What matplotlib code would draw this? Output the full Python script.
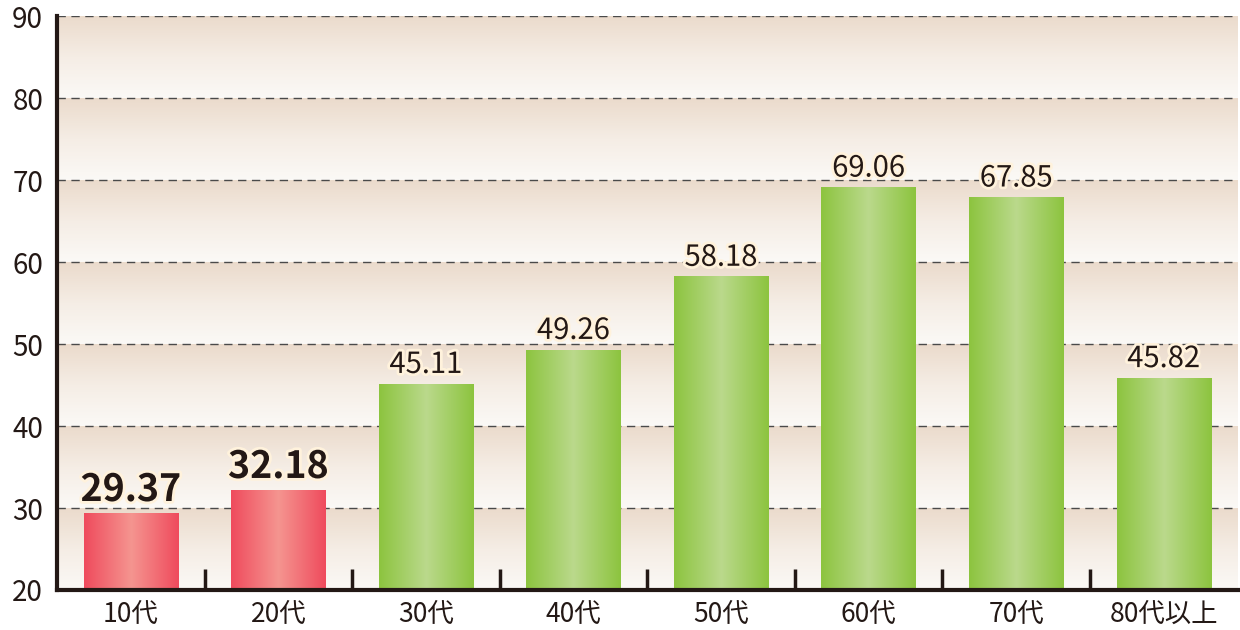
import numpy as np
import matplotlib.pyplot as plt
import matplotlib.patheffects as pe
from matplotlib.colors import LinearSegmentedColormap

plt.rcParams['font.family'] = ['Noto Sans CJK JP', 'DejaVu Sans']

categories = ['10代', '20代', '30代', '40代', '50代', '60代', '70代', '80代以上']
values = [29.37, 32.18, 45.11, 49.26, 58.18, 69.06, 67.85, 45.82]
highlight = [True, True, False, False, False, False, False, False]
y_ticks = [20, 30, 40, 50, 60, 70, 80, 90]

fig = plt.figure(figsize=(12.4, 6.3), dpi=100)
ax = fig.add_axes([0.046, 0.0635, 0.952, 0.911])
ax.set_xlim(0, len(categories))
ax.set_ylim(20, 90)

# background bands: beige at top of each band fading to near white
band_cmap = LinearSegmentedColormap.from_list('band', ['#fbf9f6', '#f5ede5', '#ebdbcc'])
grad = np.linspace(0, 1, 64).reshape(-1, 1)
for lo in y_ticks[:-1]:
    ax.imshow(grad, cmap=band_cmap, aspect='auto', origin='lower',
              extent=(0, len(categories), lo, lo + 10), zorder=0)

for y in y_ticks[1:]:
    ax.axhline(y, color='#4a4a4a', lw=1.0, ls=(0, (6, 4)), zorder=1)

# bars with horizontal gradient
red_cmap = LinearSegmentedColormap.from_list('red', ['#ef4b5d', '#f59590', '#ef4b5d'])
green_cmap = LinearSegmentedColormap.from_list('green', ['#8cc43f', '#bbd98c', '#8cc43f'])
hgrad = np.linspace(0, 1, 128).reshape(1, -1)
bw = 0.64
for i, (v, hl) in enumerate(zip(values, highlight)):
    x0 = i + 0.5 - bw / 2
    ax.imshow(hgrad, cmap=red_cmap if hl else green_cmap, aspect='auto',
              extent=(x0, x0 + bw, 20, v), zorder=2)
    glow = [pe.withStroke(linewidth=4, foreground='#fff2dc')]
    if hl:
        ax.annotate(f'{v:.2f}', (i + 0.5, v), xytext=(0, 3), textcoords='offset points',
                    ha='center', va='bottom', fontsize=27, fontweight='bold',
                    color='#231815', path_effects=glow, zorder=4)
    else:
        ax.annotate(f'{v:.2f}', (i + 0.5, v), xytext=(0, 3), textcoords='offset points',
                    ha='center', va='bottom', fontsize=21,
                    color='#231815', path_effects=glow, zorder=4)

# boundary tick marks
for b in range(1, len(categories)):
    ax.plot([b, b], [20, 22.6], color='#231815', lw=2.5, zorder=3, solid_capstyle='butt')

ax.set_xticks(np.arange(len(categories)) + 0.5)
ax.set_xticklabels(categories, fontsize=19, color='#231815')
ax.set_yticks(y_ticks)
ax.set_yticklabels([str(t) for t in y_ticks], fontsize=20, color='#231815')
ax.tick_params(axis='both', length=0)
ax.tick_params(axis='x', pad=8)
ax.tick_params(axis='y', pad=10)

for s in ['top', 'right']:
    ax.spines[s].set_visible(False)
for s in ['left', 'bottom']:
    ax.spines[s].set_linewidth(3)
    ax.spines[s].set_color('#231815')
    ax.spines[s].set_zorder(5)

fig.savefig('out.png', dpi=100)
